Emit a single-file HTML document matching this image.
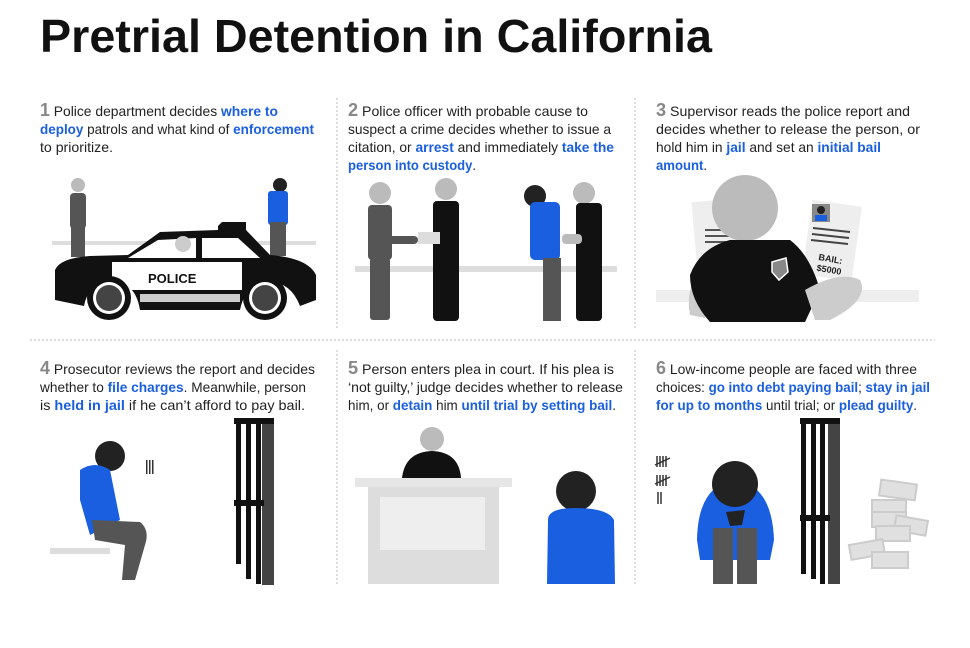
<!DOCTYPE html>
<html><head><meta charset="utf-8"><style>
html,body{margin:0;padding:0;background:#fff;width:970px;height:648px;overflow:hidden}
svg{display:block}
.t{font-family:"Liberation Sans",sans-serif;font-size:14px;fill:#222}
.b{fill:#1a5fe0;font-weight:bold}
.n{fill:#888;font-size:18px;font-weight:bold}
</style></head><body>
<svg width="970" height="648" viewBox="0 0 970 648" xmlns="http://www.w3.org/2000/svg">
<text x="40" y="52" font-family="Liberation Sans,sans-serif" font-weight="bold" font-size="46" fill="#111" textLength="672" lengthAdjust="spacingAndGlyphs">Pretrial Detention in California</text>
<g stroke="#bbb" stroke-width="1" stroke-dasharray="2,2">
<line x1="337" y1="98" x2="337" y2="330"/><line x1="635" y1="98" x2="635" y2="330"/>
<line x1="30" y1="340" x2="935" y2="340"/>
<line x1="337" y1="350" x2="337" y2="585"/><line x1="635" y1="350" x2="635" y2="585"/>
</g>
<g class="t">
<text x="40" y="116" textLength="238" lengthAdjust="spacingAndGlyphs"><tspan class="n">1</tspan> Police department decides <tspan class="b">where to</tspan></text>
<text x="40" y="134" textLength="274" lengthAdjust="spacingAndGlyphs"><tspan class="b">deploy</tspan> patrols and what kind of <tspan class="b">enforcement</tspan></text>
<text x="40" y="152" textLength="73" lengthAdjust="spacingAndGlyphs">to prioritize.</text>
<text x="348" y="116" textLength="240" lengthAdjust="spacingAndGlyphs"><tspan class="n">2</tspan> Police officer with probable cause to</text>
<text x="348" y="134" textLength="263" lengthAdjust="spacingAndGlyphs">suspect a crime decides whether to issue a</text>
<text x="348" y="152" textLength="266" lengthAdjust="spacingAndGlyphs">citation, or <tspan class="b">arrest</tspan> and immediately <tspan class="b">take the</tspan></text>
<text x="348" y="170" textLength="128" lengthAdjust="spacingAndGlyphs"><tspan class="b">person into custody</tspan>.</text>
<text x="656" y="116" textLength="254" lengthAdjust="spacingAndGlyphs"><tspan class="n">3</tspan> Supervisor reads the police report and</text>
<text x="656" y="134" textLength="264" lengthAdjust="spacingAndGlyphs">decides whether to release the person, or</text>
<text x="656" y="152" textLength="225" lengthAdjust="spacingAndGlyphs">hold him in <tspan class="b">jail</tspan> and set an <tspan class="b">initial bail</tspan></text>
<text x="656" y="170" textLength="51" lengthAdjust="spacingAndGlyphs"><tspan class="b">amount</tspan>.</text>
<text x="40" y="374" textLength="275" lengthAdjust="spacingAndGlyphs"><tspan class="n">4</tspan> Prosecutor reviews the report and decides</text>
<text x="40" y="392" textLength="266" lengthAdjust="spacingAndGlyphs">whether to <tspan class="b">file charges</tspan>. Meanwhile, person</text>
<text x="40" y="410" textLength="265" lengthAdjust="spacingAndGlyphs">is <tspan class="b">held in jail</tspan> if he can’t afford to pay bail.</text>
<text x="348" y="374" textLength="266" lengthAdjust="spacingAndGlyphs"><tspan class="n">5</tspan> Person enters plea in court.  If his plea is</text>
<text x="348" y="392" textLength="275" lengthAdjust="spacingAndGlyphs">‘not guilty,’ judge decides whether to release</text>
<text x="348" y="410" textLength="268" lengthAdjust="spacingAndGlyphs">him, or <tspan class="b">detain</tspan> him <tspan class="b">until trial by setting bail</tspan>.</text>
<text x="656" y="374" textLength="261" lengthAdjust="spacingAndGlyphs"><tspan class="n">6</tspan> Low-income people are faced with three</text>
<text x="656" y="392" textLength="274" lengthAdjust="spacingAndGlyphs">choices: <tspan class="b">go into debt paying bail</tspan>; <tspan class="b">stay in jail</tspan></text>
<text x="656" y="410" textLength="261" lengthAdjust="spacingAndGlyphs"><tspan class="b">for up to months</tspan> until trial; or <tspan class="b">plead guilty</tspan>.</text>
</g>
<rect x="52" y="241" width="264" height="4" fill="#ddd"/>
<circle cx="78" cy="185" r="7" fill="#bbb"/>
<rect x="70" y="193" width="16" height="36" rx="4" fill="#555"/>
<rect x="71" y="225" width="14" height="32" fill="#555"/>
<circle cx="280" cy="185" r="7" fill="#222"/>
<rect x="268" y="191" width="20" height="34" rx="3" fill="#1a5fe0"/>
<rect x="270" y="222" width="16" height="34" fill="#555"/>
<path d="M55 270 Q60 258 90 256 L128 255 L160 232 L218 230 L218 226 L222 222 L246 222 L246 230 L270 255 Q308 258 316 275 L316 300 L300 306 Q290 280 265 282 Q245 285 240 310 L140 310 Q135 280 110 282 Q88 284 84 306 L55 300 Z" fill="#111"/>
<path d="M128 258 L158 240 L196 238 L196 258 Z M202 238 L238 238 L260 258 L202 258Z" fill="#fff"/>
<circle cx="183" cy="244" r="8" fill="#ccc"/>
<rect x="112" y="262" width="130" height="28" fill="#fff"/>
<rect x="140" y="294" width="100" height="8" fill="#ccc"/>
<text x="148" y="283" font-family="Liberation Sans,sans-serif" font-weight="bold" font-size="13" fill="#111">POLICE</text>
<circle cx="109" cy="298" r="22" fill="#111"/><circle cx="109" cy="298" r="16" fill="#fff"/><circle cx="109" cy="298" r="13" fill="#444"/>
<circle cx="265" cy="298" r="22" fill="#111"/><circle cx="265" cy="298" r="16" fill="#fff"/><circle cx="265" cy="298" r="13" fill="#444"/>
<rect x="355" y="266" width="262" height="6" fill="#ddd"/>
<circle cx="380" cy="193" r="11" fill="#bbb"/><rect x="368" y="205" width="24" height="55" rx="4" fill="#555"/><rect x="370" y="258" width="20" height="62" rx="3" fill="#555"/>
<rect x="388" y="236" width="30" height="8" rx="4" fill="#555"/>
<circle cx="446" cy="189" r="11" fill="#bbb"/><rect x="433" y="201" width="26" height="120" rx="4" fill="#111"/>
<rect x="418" y="232" width="22" height="12" fill="#ddd"/>
<circle cx="535" cy="196" r="11" fill="#222"/><rect x="530" y="202" width="30" height="58" rx="5" fill="#1a5fe0"/><rect x="543" y="258" width="18" height="63" fill="#555"/>
<circle cx="584" cy="193" r="11" fill="#bbb"/><rect x="576" y="203" width="26" height="118" rx="4" fill="#111"/>
<rect x="562" y="234" width="20" height="10" rx="4" fill="#bbb"/>
<rect x="656" y="290" width="263" height="12" fill="#eee"/>
<rect x="694" y="200" width="50" height="60" fill="#eee" transform="rotate(-5 719 230)"/>
<g stroke="#555" stroke-width="2"><line x1="705" y1="230" x2="735" y2="230"/><line x1="705" y1="236" x2="735" y2="236"/><line x1="705" y1="242" x2="735" y2="242"/></g>
<rect x="807" y="203" width="50" height="75" fill="#eee" transform="rotate(8 832 240)"/>
<rect x="812" y="204" width="18" height="18" fill="#888"/><circle cx="821" cy="210" r="4" fill="#222"/><rect x="815" y="215" width="12" height="6" fill="#1a5fe0"/>
<g stroke="#444" stroke-width="2"><line x1="813" y1="228" x2="850" y2="232"/><line x1="812" y1="234" x2="849" y2="238"/><line x1="811" y1="240" x2="848" y2="244"/></g>
<text x="818" y="262" font-family="Liberation Sans,sans-serif" font-weight="bold" font-size="9" fill="#222" transform="rotate(10 830 262)">BAIL:</text>
<text x="816" y="273" font-family="Liberation Sans,sans-serif" font-weight="bold" font-size="9" fill="#222" transform="rotate(10 830 273)">$5000</text>
<path d="M700 270 Q685 290 690 315 L705 318Z" fill="#ccc"/>
<circle cx="745" cy="208" r="33" fill="#bbb"/>
<path d="M690 275 Q700 248 730 240 L790 240 Q810 255 820 290 L805 322 L710 322 Q690 300 690 275Z" fill="#111"/>
<path d="M805 290 Q840 270 860 280 Q870 300 830 320 L815 320Z" fill="#ccc"/>
<path d="M772 262 L786 258 L788 272 L779 280 L772 272Z" fill="#888" stroke="#fff" stroke-width="1.5"/>
<rect x="50" y="548" width="60" height="6" fill="#ddd"/>
<circle cx="110" cy="456" r="15" fill="#222"/>
<path d="M80 470 Q95 460 110 470 L120 520 L90 535 L80 500Z" fill="#1a5fe0"/>
<path d="M92 520 L140 522 Q150 530 145 545 L135 580 L122 580 L125 545 L95 540Z" fill="#555"/>
<rect x="146" y="460" width="1.5" height="14" fill="#333"/><rect x="149" y="460" width="1.5" height="14" fill="#333"/><rect x="152" y="460" width="1.5" height="14" fill="#333"/>
<rect x="262" y="420" width="12" height="165" fill="#444"/>
<g fill="#111"><rect x="234" y="418" width="40" height="6"/><rect x="236" y="424" width="5" height="140"/><rect x="246" y="424" width="5" height="155"/><rect x="256" y="424" width="5" height="160"/><rect x="234" y="500" width="30" height="6"/></g>
<circle cx="432" cy="439" r="12" fill="#bbb"/>
<path d="M402 478 Q405 452 432 451 Q459 452 461 478Z" fill="#111"/>
<rect x="355" y="478" width="157" height="9" fill="#e6e6e6"/>
<rect x="368" y="487" width="131" height="97" fill="#ddd"/>
<rect x="380" y="497" width="105" height="53" fill="#eee"/>
<circle cx="576" cy="491" r="20" fill="#222"/>
<path d="M548 520 Q548 508 575 508 Q608 508 614 520 L615 584 L547 584Z" fill="#1a5fe0"/>
<g stroke="#333" stroke-width="1.5"><line x1="657" y1="456" x2="657" y2="467"/><line x1="660" y1="456" x2="660" y2="467"/><line x1="663" y1="456" x2="663" y2="467"/><line x1="666" y1="456" x2="666" y2="467"/><line x1="655" y1="465" x2="670" y2="458"/>
<line x1="657" y1="475" x2="657" y2="486"/><line x1="660" y1="475" x2="660" y2="486"/><line x1="663" y1="475" x2="663" y2="486"/><line x1="666" y1="475" x2="666" y2="486"/><line x1="655" y1="484" x2="670" y2="477"/>
<line x1="658" y1="492" x2="658" y2="504"/><line x1="661" y1="492" x2="661" y2="504"/></g>
<path d="M697 540 Q698 485 735 480 Q772 485 774 540 L770 560 L700 560Z" fill="#1a5fe0"/>
<circle cx="735" cy="484" r="23" fill="#222"/>
<path d="M726 512 L745 510 L742 525 L730 526Z" fill="#222"/>
<rect x="713" y="528" width="20" height="56" fill="#555"/><rect x="737" y="528" width="20" height="56" fill="#555"/>
<rect x="828" y="420" width="12" height="164" fill="#444"/>
<g fill="#111"><rect x="800" y="418" width="40" height="6"/><rect x="801" y="424" width="5" height="150"/><rect x="811" y="424" width="5" height="155"/><rect x="820" y="424" width="5" height="160"/><rect x="800" y="515" width="30" height="6"/></g>
<g fill="#e0e0e0" stroke="#ccc" stroke-width="2">
<rect x="880" y="482" width="36" height="16" transform="rotate(8 898 490)"/>
<rect x="872" y="500" width="34" height="15"/>
<rect x="872" y="512" width="34" height="15"/>
<rect x="895" y="518" width="32" height="15" transform="rotate(10 911 525)"/>
<rect x="876" y="526" width="34" height="15"/>
<rect x="850" y="542" width="34" height="15" transform="rotate(-10 867 550)"/>
<rect x="872" y="552" width="36" height="16"/>
</g>
</svg>
</body></html>
